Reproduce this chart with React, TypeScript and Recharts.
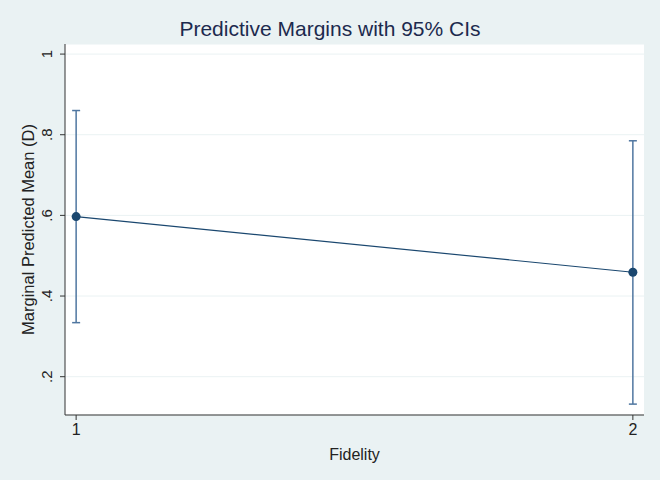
import React from 'react';
import { ComposedChart, Line, XAxis, YAxis, CartesianGrid, ErrorBar } from 'recharts';

const fidelity = [1, 2];
const margins = [0.597, 0.459];
const ciLow = [0.334, 0.132];
const ciHigh = [0.86, 0.785];
const yTicks = [0.2, 0.4, 0.6, 0.8, 1];
const xTicks = [1, 2];

const data = fidelity.map((f, i) => ({
  fidelity: f,
  margin: margins[i],
  err: [margins[i] - ciLow[i], ciHigh[i] - margins[i]],
}));

const fmtY = (v: number) => (v === 1 ? '1' : String(v).replace(/^0/, ''));

const YTick = (props: any) => {
  const { x, y, payload } = props;
  return (
    <g transform={`translate(${x - 6},${y})`}>
      <text transform="rotate(-90)" textAnchor="middle" x={0} y={0} fontSize={15} fill="#222" fontFamily="Liberation Sans, Arial, sans-serif">
        {fmtY(payload.value)}
      </text>
    </g>
  );
};

export default function App() {
  return (
    <div style={{ position: 'absolute', left: 0, top: 0, width: 660, height: 480, background: '#eaf2f3' }}>
      <div style={{ position: 'absolute', left: 0, top: 17, width: 660, textAlign: 'center', fontFamily: 'Liberation Sans, Arial, sans-serif', fontSize: 21, color: '#1c2a4e' }}>
        Predictive Margins with 95% CIs
      </div>
      <div style={{ position: 'absolute', left: 65, top: 44, width: 579, height: 371, background: '#ffffff' }} />
      <div style={{ position: 'absolute', left: 0, top: 0 }}>
        <ComposedChart width={660} height={480} data={data} margin={{ top: 44, right: 16, bottom: 0, left: 0 }}>
          <CartesianGrid vertical={false} stroke="#eaf2f3" strokeWidth={1} />
          <XAxis
            dataKey="fidelity"
            type="number"
            domain={[0.98, 2.02]}
            ticks={xTicks}
            allowDataOverflow
            height={65}
            tickSize={5}
            tickMargin={4}
            stroke="#333"
            tick={{ fontSize: 16, fill: '#222', fontFamily: 'Liberation Sans, Arial, sans-serif' }}
            label={{ value: 'Fidelity', position: 'insideBottom', offset: 20, fontSize: 16, fill: '#222', fontFamily: 'Liberation Sans, Arial, sans-serif' }}
          />
          <YAxis
            type="number"
            domain={[0.105, 1.025]}
            ticks={yTicks}
            allowDataOverflow
            width={65}
            tickSize={5}
            tickMargin={2}
            stroke="#333"
            tick={<YTick />}
            label={{ value: 'Marginal Predicted Mean (D)', angle: -90, position: 'insideLeft', offset: 28, fontSize: 16.5, fill: '#222', fontFamily: 'Liberation Sans, Arial, sans-serif', style: { textAnchor: 'middle' } }}
          />
          <Line
            dataKey="margin"
            stroke="#1a476f"
            strokeWidth={1.2}
            dot={{ r: 4.5, fill: '#1a476f', stroke: '#1a476f', strokeWidth: 0 }}
            isAnimationActive={false}
          >
            <ErrorBar dataKey="err" width={4} stroke="#4f76a0" strokeWidth={1.5} direction="y" />
          </Line>
        </ComposedChart>
      </div>
    </div>
  );
}
